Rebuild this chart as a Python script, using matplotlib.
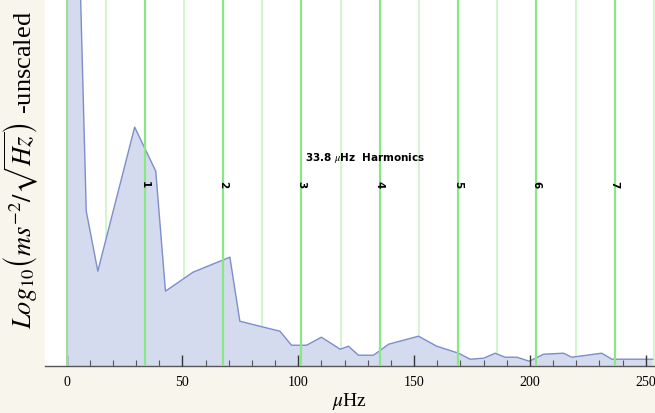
import numpy as np
import matplotlib.pyplot as plt

plt.rcParams['mathtext.fontset'] = 'stix'

# spectrum (arbitrary "unscaled" units)
freq = [0, 8.5, 13.5, 29.4, 38.5, 42.7, 54.6, 70.5, 74.8, 83.4, 92.1, 97.1,
        103.6, 110.0, 118.1, 121.7, 126.0, 132.5, 139.0, 151.9, 159.8, 169.2,
        174.2, 180.0, 185.0, 189.3, 194.4, 199.7, 205.9, 214.5, 218.1, 231.0,
        235.4, 253.0]
level = [900, 155, 95, 239, 195, 75, 94, 109, 45, 40, 35, 21,
         21, 29, 17, 20, 11, 11, 22, 30, 20, 13,
         7, 8, 13, 9, 9, 5, 12, 13, 9, 13,
         7, 7]

base_freq = 33.8
harmonics = [1, 2, 3, 4, 5, 6, 7]
half_steps = [0.5, 1.5, 2.5, 3.5, 4.5, 5.5, 6.5, 7.5]

fig = plt.figure(figsize=(6.55, 4.14), dpi=100, facecolor='#f8f5ec')
ax = fig.add_axes([0.068, 0.113, 0.932, 0.887])
ax.set_facecolor('white')
ax.set_axisbelow(False)

for h in half_steps:
    ax.axvline(h * base_freq, color='#cdf3c6', lw=1.2, zorder=1)
for h in harmonics:
    ax.axvline(h * base_freq, color='#8ae884', lw=1.6, zorder=3)
ax.axvline(0, color='#9fdc98', lw=1.5, zorder=3)

ax.fill_between(freq, level, 0, color='#d4dbee', lw=0, zorder=2)
ax.plot(freq, level, color='#7d8ecb', lw=1.0, zorder=2)

for h in harmonics:
    ax.text(h * base_freq, 182, str(h), rotation=-90, ha='center', va='center',
            fontsize=7.5, fontweight='bold', family='DejaVu Sans', zorder=4)
ax.text(129, 209, r'33.8 $\mu$Hz  Harmonics', ha='center', va='center',
        fontsize=7.5, fontweight='bold', family='DejaVu Sans', zorder=4)

ax.set_xlim(-9.5, 254)
ax.set_ylim(0, 367)

for s in ['top', 'right', 'left']:
    ax.spines[s].set_visible(False)
ax.spines['bottom'].set_color('#555555')
ax.spines['bottom'].set_linewidth(1.0)

ax.set_xticks([0, 50, 100, 150, 200, 250])
ax.set_xticks(np.arange(0, 251, 10), minor=True)
ax.tick_params(axis='x', which='major', direction='in', length=8, width=1.0,
               color='#333333', labelsize=10, pad=6)
ax.tick_params(axis='x', which='minor', direction='in', length=4, width=0.8,
               color='#555555')
ax.set_yticks([])
for lab in ax.get_xticklabels():
    lab.set_family('Liberation Serif')

ax.set_xlabel(r'$\mu$Hz', fontsize=14, family='Liberation Serif', labelpad=2)
fig.text(0.032, 0.59, r'$Log_{10}\left(ms^{-2}/\sqrt{Hz}\right)$ -unscaled',
         rotation=90, ha='center', va='center', fontsize=19,
         family='Liberation Serif')

fig.savefig('out.png', dpi=100, facecolor=fig.get_facecolor())
